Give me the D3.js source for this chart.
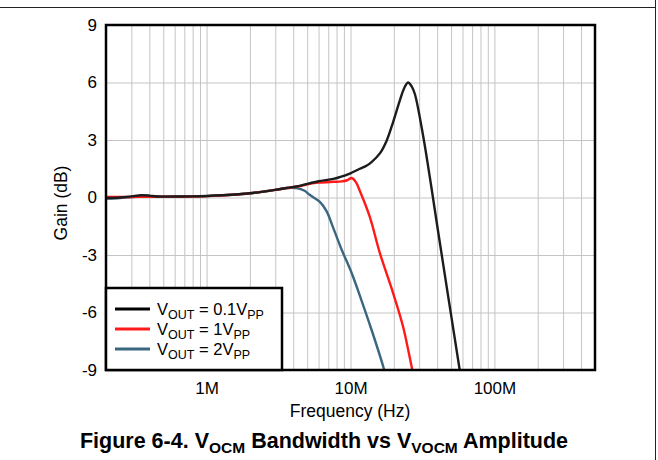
<!DOCTYPE html>
<html><head><meta charset="utf-8">
<script src="https://cdn.jsdelivr.net/npm/d3@7/dist/d3.min.js"></script>
<style>body{margin:0;background:#fff;overflow:hidden} text{font-family:"Liberation Sans",Arial,sans-serif;fill:#000}</style>
</head><body><svg id="c" width="658" height="460"></svg>
<script>
// ---- data ----
const xTickValues = [1e6, 1e7, 1e8];
const xTickLabels = ["1M", "10M", "100M"];
const yTickValues = [9, 6, 3, 0, -3, -6, -9];

const seriesNames = ["0.1", "1", "2"];
const seriesColors = ["#1c1c1c", "#ff1a1a", "#3b6680"];

const freq01 = [2e5,2.5e5,3e5,3.5e5,4e5,4.5e5,6e5,8e5,1e6,1.5e6,2e6,3e6,3.5e6,4.5e6,5.2e6,6e6,7.6e6,8.4e6,9.9e6,11.6e6,12.9e6,14e6,16e6,17.8e6,19.8e6,22e6,23.6e6,25.1e6,26.6e6,28e6,32e6,35.6e6,40e6,57.4e6,60e6];
const gain01 = [-0.03,0.0,0.06,0.12,0.1,0.05,0.05,0.06,0.08,0.14,0.22,0.4,0.48,0.62,0.74,0.85,0.97,1.06,1.25,1.5,1.66,1.85,2.3,2.95,3.95,5.05,5.7,6.0,5.8,5.4,3.2,1.05,-1.45,-9.0,-9.9];

const freq1 = [2e5,2.5e5,3e5,3.5e5,4e5,4.5e5,6e5,8e5,1e6,1.5e6,2e6,3e6,3.5e6,4.5e6,5.2e6,6.1e6,7.6e6,8.7e6,9.5e6,10.2e6,10.9e6,11.6e6,13.6e6,16e6,19.8e6,23.2e6,26.6e6,28e6];
const gain1 = [0.03,0.03,0.03,0.04,0.04,0.04,0.04,0.05,0.07,0.14,0.22,0.4,0.48,0.6,0.72,0.78,0.82,0.84,0.9,1.02,0.8,0.35,-1.0,-2.9,-5.0,-6.74,-8.83,-9.6];

const freq2 = [2e5,2.5e5,3e5,3.5e5,4e5,4.5e5,6e5,8e5,1e6,1.5e6,2e6,3e6,3.5e6,3.9e6,4.3e6,4.8e6,5.2e6,6.1e6,6.8e6,7.6e6,8.7e6,10.2e6,11.9e6,14e6,16.9e6,18e6];
const gain2 = [-0.06,-0.03,0.02,0.05,0.05,0.05,0.05,0.06,0.07,0.14,0.22,0.4,0.47,0.5,0.48,0.35,0.14,-0.22,-0.7,-1.6,-2.74,-3.95,-5.35,-6.9,-8.83,-9.6];

// ---- layout ----
const svg = d3.select("#c");
const L = 106, R = 595, T = 25, B = 370;
const x = d3.scaleLog().domain([2e5, 5e8]).range([L, R]);
const y = d3.scaleLinear().domain([-9, 9]).range([B, T]);
const FONT = "Liberation Sans, Arial, sans-serif";

// outer frame lines
svg.append("line").attr("x1",0).attr("x2",655).attr("y1",7.5).attr("y2",7.5).attr("stroke","#222").attr("stroke-width",1);
svg.append("line").attr("x1",655.5).attr("x2",655.5).attr("y1",0).attr("y2",460).attr("stroke","#222").attr("stroke-width",1);

// grid
const minor = [];
for (let e = 5; e <= 8; e++) for (let k = 1; k <= 9; k++) { const v = k * Math.pow(10, e); if (v > 2e5 && v < 5e8) minor.push(v); }
const g = svg.append("g");
g.append("g").call(d3.axisBottom(x).tickValues(minor).tickSize(-(B - T)).tickFormat(""))
  .attr("transform", `translate(0,${B})`)
  .call(s => { s.select(".domain").remove(); s.selectAll("line").attr("stroke", "#c4c4c4").attr("stroke-width", 1); });
g.append("g").call(d3.axisLeft(y).tickValues([6,3,0,-3,-6]).tickSize(-(R - L)).tickFormat(""))
  .attr("transform", `translate(${L},0)`)
  .call(s => { s.select(".domain").remove(); s.selectAll("line").attr("stroke", "#c4c4c4").attr("stroke-width", 1); });

// curves
svg.append("clipPath").attr("id","clip").append("rect").attr("x",L).attr("y",T).attr("width",R-L).attr("height",B-T);
const line = d3.line().x(d => x(d[0])).y(d => y(d[1])).curve(d3.curveCatmullRom.alpha(0.5));
const series = [[freq01, gain01], [freq1, gain1], [freq2, gain2]];
[2, 1, 0].forEach(i => {
  const [f, gg] = series[i];
  svg.append("path").attr("clip-path","url(#clip)")
    .attr("d", line(f.map((v, j) => [v, gg[j]])))
    .attr("fill","none").attr("stroke", seriesColors[i]).attr("stroke-width", 2.4)
    .attr("stroke-linejoin","round");
});

// plot border
svg.append("rect").attr("x",L).attr("y",T).attr("width",R-L).attr("height",B-T)
  .attr("fill","none").attr("stroke","#000").attr("stroke-width",2.5);

// y tick labels
const yAx = svg.append("g").attr("transform",`translate(${L},0)`)
  .call(d3.axisLeft(y).tickValues(yTickValues).tickSize(0).tickPadding(9).tickFormat(d => String(d)));
yAx.select(".domain").remove();
yAx.selectAll("text").style("font-size","17px").style("font-family",FONT).attr("fill","#000");

// x tick labels
const xAx = svg.append("g").attr("transform",`translate(0,${B})`)
  .call(d3.axisBottom(x).tickValues(xTickValues).tickSize(0).tickPadding(12).tickFormat((d,i) => xTickLabels[i]));
xAx.select(".domain").remove();
xAx.selectAll("text").style("font-size","17px").style("font-family",FONT).attr("fill","#000");

// axis titles
svg.append("text").attr("x", 350).attr("y", 417).attr("text-anchor","middle").style("font-size","17.5px").text("Frequency (Hz)");
svg.append("text").attr("transform","translate(67,203) rotate(-90)").attr("text-anchor","middle").style("font-size","17.5px").text("Gain (dB)");

// legend
const lg = svg.append("g");
lg.append("rect").attr("x",L).attr("y",288).attr("width",176).attr("height",B-288)
  .attr("fill","#fff").attr("stroke","#000").attr("stroke-width",2.5);
const legY = [309, 329, 349];
seriesNames.forEach((n, i) => {
  lg.append("line").attr("x1",115).attr("x2",150).attr("y1",legY[i]).attr("y2",legY[i])
    .attr("stroke", i === 0 ? "#000" : seriesColors[i]).attr("stroke-width",3);
  const t = lg.append("text").attr("x",157).attr("y",legY[i]+6).style("font-size","16.5px");
  t.append("tspan").text("V");
  t.append("tspan").attr("dy",4).style("font-size","12.5px").text("OUT");
  t.append("tspan").attr("dy",-4).text(" = " + n + "V");
  t.append("tspan").attr("dy",4).style("font-size","12.5px").text("PP");
});

// figure title
const tt = svg.append("text").attr("x",324).attr("y",448).attr("text-anchor","middle")
  .style("font-size","21.5px").style("font-weight","bold");
tt.append("tspan").text("Figure 6-4. V");
tt.append("tspan").attr("dy",5).style("font-size","15.5px").text("OCM");
tt.append("tspan").attr("dy",-5).text(" Bandwidth vs V");
tt.append("tspan").attr("dy",5).style("font-size","15.5px").text("VOCM");
tt.append("tspan").attr("dy",-5).text(" Amplitude");
</script></body></html>
